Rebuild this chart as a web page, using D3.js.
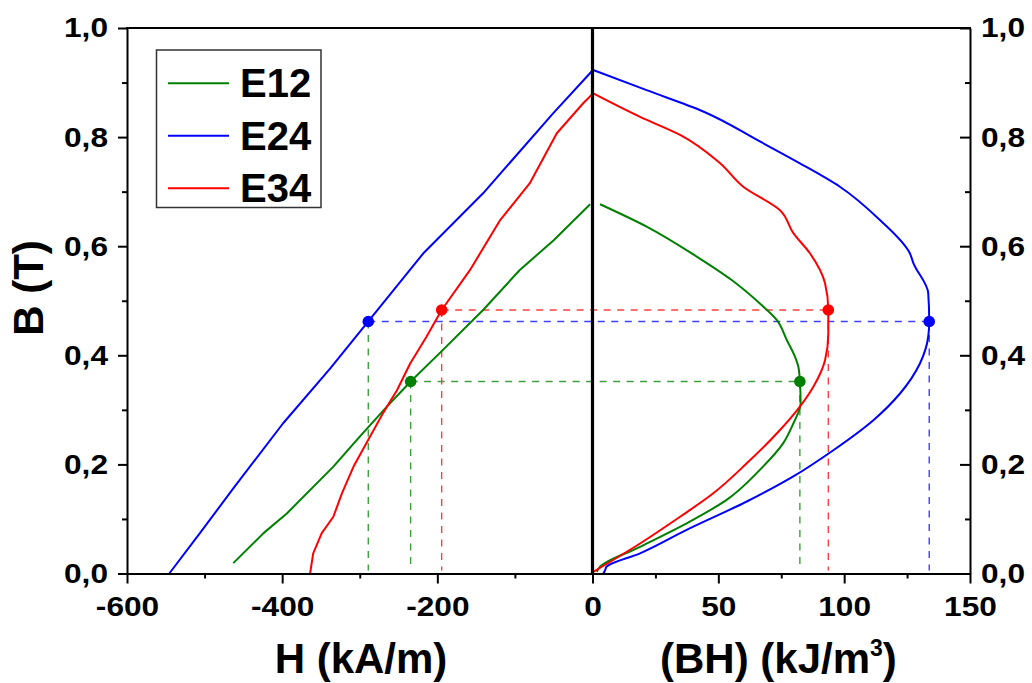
<!DOCTYPE html>
<html><head><meta charset="utf-8">
<script src="https://cdn.jsdelivr.net/npm/d3@7"></script>
<style>
html,body{margin:0;padding:0;background:#fff;}
svg{display:block;font-family:"Liberation Sans",Arial,sans-serif;font-weight:bold;}
</style></head>
<body>
<svg id="chart" width="1032" height="683"></svg>
<script>
// ---------- data ----------
const seriesNames = ["E12", "E24", "E34"];
// demagnetisation curves: [H (kA/m), B (T)]
const e12Demag = [[-463,0.019],[-424,0.074],[-394,0.110],[-334,0.196],[-300,0.251],[-265,0.306],[-234.4,0.352],[-197,0.404],[-141,0.483],[-94,0.556],[-50,0.611],[-3,0.677]];
const e24Demag = [[-545.5,0],[-506,0.074],[-463,0.156],[-399,0.275],[-338,0.376],[-289,0.462],[-218,0.587],[-141,0.697],[-50.5,0.844],[0,0.922]];
const e34Demag = [[-364,0],[-360,0.037],[-349,0.074],[-334,0.104],[-323,0.147],[-308,0.196],[-289,0.245],[-270,0.294],[-252,0.336],[-235,0.385],[-214,0.434],[-194.4,0.483],[-158,0.556],[-119,0.648],[-81,0.715],[-46,0.807],[-12,0.862],[0,0.879]];
// energy product curves: [BH (kJ/m3), B (T)]
const e12Energy = [[3,0.677],[21.5,0.636],[41.4,0.581],[55.3,0.538],[66.5,0.495],[73.2,0.465],[77.2,0.428],[80.5,0.397],[81.8,0.379],[82.4,0.352],[82.7,0.312],[79.8,0.275],[75.8,0.239],[66.5,0.190],[53.3,0.135],[37.4,0.092],[18.9,0.049],[3,0.0125],[1.7,0.003]];
const e24Energy = [[0.3,0.923],[21.5,0.886],[44,0.847],[66.5,0.792],[82.4,0.752],[98.3,0.709],[114.2,0.648],[126.1,0.587],[127.5,0.569],[133.4,0.514],[133.8,0.462],[133.4,0.434],[130.1,0.385],[122.2,0.330],[111.6,0.281],[95.7,0.226],[79.8,0.178],[61.3,0.132],[37.4,0.080],[18.9,0.037],[5.6,0.0125],[5.0,0.006],[4.3,0]];
const e34Energy = [[0.3,0.880],[18.9,0.837],[34.8,0.804],[50.7,0.752],[59.9,0.709],[74.5,0.666],[79.8,0.624],[86.4,0.587],[92.4,0.532],[93.7,0.483],[93.7,0.440],[92.4,0.391],[87.7,0.342],[82.4,0.306],[74.5,0.263],[61.3,0.202],[48,0.147],[34.8,0.104],[18.9,0.055],[0.3,0.003]];
// (BH)max points
const maxH  = [-234.4, -289, -194.4];
const maxB  = [0.352, 0.462, 0.483];
const maxBH = [82.4, 133.8, 93.7];
// ticks
const bTicks = [0, 0.2, 0.4, 0.6, 0.8, 1.0];
const bMinor = [0.1, 0.3, 0.5, 0.7, 0.9];
const hTicks = [-600, -400, -200, 0];
const hMinor = [-500, -300, -100];
const bhTicks = [50, 100, 150];
const bhMinor = [25, 75, 125];

// ---------- styles ----------
const colors = ["#008000", "#0000ff", "#ff0000"];
const leftDropColors = ["#008000", "#008000", "#ff0000"];
const LEFT = 127, MID = 592.5, RIGHT = 970, TOP = 28, BOTTOM = 573.5;

const svg = d3.select("#chart");
const y = d3.scaleLinear().domain([0, 1]).range([BOTTOM, TOP]);
const xH = d3.scaleLinear().domain([-600, 0]).range([LEFT, MID]);
const xBH = d3.scaleLinear().domain([0, 150]).range([MID, RIGHT]);
const fmtB = d => d3.format(".1f")(d).replace(".", ",");
const fmtInt = d => String(d);

function stretch(sel, k) {
  sel.each(function () {
    const w = this.getComputedTextLength();
    d3.select(this).attr("textLength", w * k).attr("lengthAdjust", "spacingAndGlyphs");
  });
}
const TICKFS = 28, TSTRETCH = 1.13;

// ---------- dashed guides ----------
const guides = svg.append("g").attr("fill", "none").attr("stroke-width", 1.4)
  .attr("stroke-dasharray", "7,6.5").attr("opacity", 0.75);
seriesNames.forEach((n, i) => {
  guides.append("line").attr("stroke", colors[i])
    .attr("x1", xH(maxH[i])).attr("x2", xBH(maxBH[i]))
    .attr("y1", y(maxB[i])).attr("y2", y(maxB[i]));
  guides.append("line").attr("stroke", leftDropColors[i])
    .attr("x1", xH(maxH[i])).attr("x2", xH(maxH[i]))
    .attr("y1", y(maxB[i])).attr("y2", y(0) - 3);
  guides.append("line").attr("stroke", colors[i])
    .attr("x1", xBH(maxBH[i])).attr("x2", xBH(maxBH[i]))
    .attr("y1", y(maxB[i])).attr("y2", y(0) - 3);
});

// ---------- curves ----------
const demag = [e12Demag, e24Demag, e34Demag];
const energy = [e12Energy, e24Energy, e34Energy];
const lineH = d3.line().x(d => xH(d[0])).y(d => y(d[1]));
const lineBH = d3.line().x(d => xBH(d[0])).y(d => y(d[1])).curve(d3.curveMonotoneY);
const curves = svg.append("g").attr("fill", "none").attr("stroke-width", 2).attr("stroke-linejoin", "round");
seriesNames.forEach((n, i) => {
  curves.append("path").attr("d", lineH(demag[i])).attr("stroke", colors[i]);
  curves.append("path").attr("d", lineBH(energy[i])).attr("stroke", colors[i]);
});

// ---------- markers ----------
const mk = svg.append("g");
seriesNames.forEach((n, i) => {
  mk.append("circle").attr("cx", xH(maxH[i])).attr("cy", y(maxB[i])).attr("r", 5.8).attr("fill", colors[i]);
  mk.append("circle").attr("cx", xBH(maxBH[i])).attr("cy", y(maxB[i])).attr("r", 5.8).attr("fill", colors[i]);
});

// ---------- axes ----------
const axisStyle = g => {
  g.selectAll("path.domain").attr("stroke", "#000").attr("stroke-width", 2);
  g.selectAll(".tick line").attr("stroke", "#000").attr("stroke-width", 2);
  g.selectAll("text").attr("font-size", TICKFS).attr("font-weight", "bold")
    .attr("font-family", "Liberation Sans, Arial, sans-serif").attr("fill", "#000");
};
// left
svg.append("g").attr("transform", `translate(${LEFT},0)`)
  .call(d3.axisLeft(y).tickValues(bTicks).tickFormat(fmtB).tickSizeInner(9).tickSizeOuter(0).tickPadding(10))
  .call(axisStyle).call(g => stretch(g.selectAll("text"), TSTRETCH));
svg.append("g").attr("transform", `translate(${LEFT},0)`)
  .call(d3.axisLeft(y).tickValues(bMinor).tickFormat("").tickSizeInner(5).tickSizeOuter(0))
  .call(axisStyle).call(g => g.select(".domain").remove());
// right (inward ticks)
svg.append("g").attr("transform", `translate(${RIGHT},0)`)
  .call(d3.axisRight(y).tickValues(bTicks).tickFormat(fmtB).tickSizeInner(-10).tickSizeOuter(0).tickPadding(11))
  .call(axisStyle).call(g => stretch(g.selectAll("text"), TSTRETCH));
svg.append("g").attr("transform", `translate(${RIGHT},0)`)
  .call(d3.axisRight(y).tickValues(bMinor).tickFormat("").tickSizeInner(-5).tickSizeOuter(0))
  .call(axisStyle).call(g => g.select(".domain").remove());
// bottom H
svg.append("g").attr("transform", `translate(0,${BOTTOM})`)
  .call(d3.axisBottom(xH).tickValues(hTicks).tickFormat(fmtInt).tickSizeInner(10).tickSizeOuter(0).tickPadding(13))
  .call(axisStyle).call(g => stretch(g.selectAll("text"), TSTRETCH));
svg.append("g").attr("transform", `translate(0,${BOTTOM})`)
  .call(d3.axisBottom(xH).tickValues(hMinor).tickFormat("").tickSizeInner(5).tickSizeOuter(0))
  .call(axisStyle).call(g => g.select(".domain").remove());
// bottom BH
svg.append("g").attr("transform", `translate(0,${BOTTOM})`)
  .call(d3.axisBottom(xBH).tickValues(bhTicks).tickFormat(fmtInt).tickSizeInner(10).tickSizeOuter(0).tickPadding(13))
  .call(axisStyle).call(g => stretch(g.selectAll("text"), TSTRETCH));
svg.append("g").attr("transform", `translate(0,${BOTTOM})`)
  .call(d3.axisBottom(xBH).tickValues(bhMinor).tickFormat("").tickSizeInner(5).tickSizeOuter(0))
  .call(axisStyle).call(g => g.select(".domain").remove());
// top frame line
svg.append("line").attr("x1", LEFT - 1).attr("x2", RIGHT + 1).attr("y1", TOP).attr("y2", TOP)
  .attr("stroke", "#000").attr("stroke-width", 2);
// middle line
svg.append("line").attr("x1", MID).attr("x2", MID).attr("y1", TOP).attr("y2", BOTTOM)
  .attr("stroke", "#000").attr("stroke-width", 3.2);

// ---------- titles ----------
svg.append("text").attr("transform", "translate(43,288) rotate(-90)")
  .attr("text-anchor", "middle").attr("font-size", 42).text("B (T)");
svg.append("text").attr("x", 361).attr("y", 673).attr("text-anchor", "middle")
  .attr("font-size", 42).text("H (kA/m)");
const t2 = svg.append("text").attr("x", 660).attr("y", 673).attr("font-size", 42);
t2.append("tspan").text("(BH) (kJ/m");
t2.append("tspan").attr("dy", -17).attr("font-size", 23).text("3");
t2.append("tspan").attr("dy", 17).text(")");

// ---------- legend ----------
const lg = svg.append("g");
lg.append("rect").attr("x", 156.5).attr("y", 50).attr("width", 164.5).attr("height", 157.5)
  .attr("fill", "#fff").attr("stroke", "#333").attr("stroke-width", 1.5);
seriesNames.forEach((n, i) => {
  const yy = 83.3 + i * 52.5;
  lg.append("line").attr("x1", 168).attr("x2", 229).attr("y1", yy).attr("y2", yy)
    .attr("stroke", colors[i]).attr("stroke-width", 2);
  lg.append("text").attr("x", 240).attr("y", yy + 14).attr("font-size", 40).text(n);
});
</script>
</body></html>
